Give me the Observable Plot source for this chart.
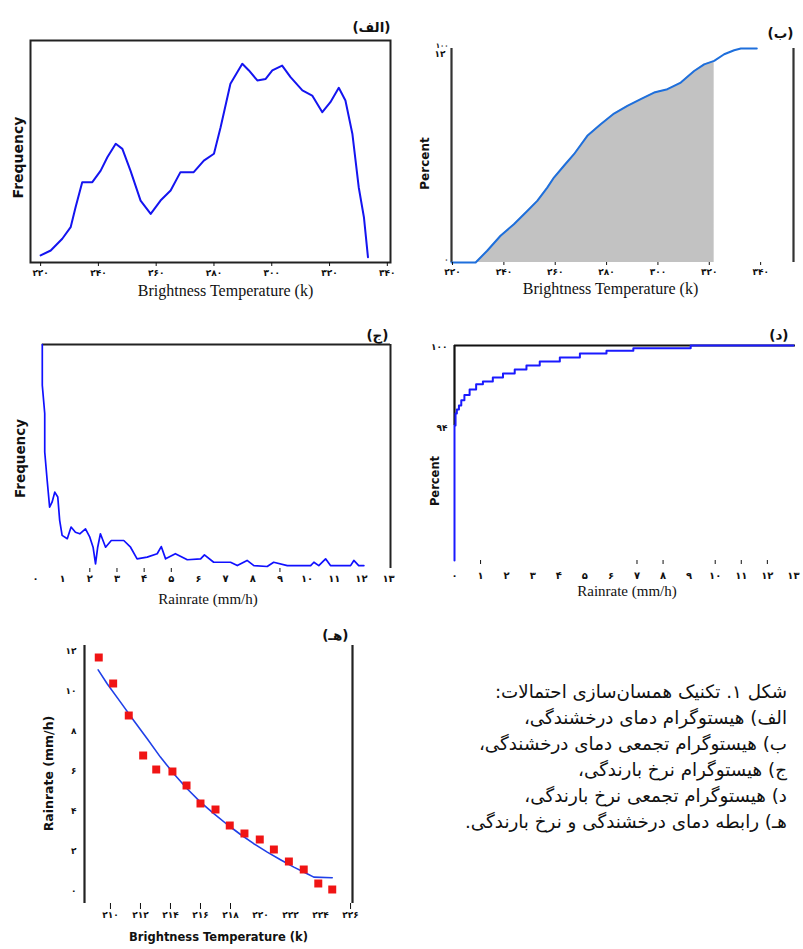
<!DOCTYPE html>
<html><head><meta charset="utf-8">
<script src="https://cdn.jsdelivr.net/npm/d3@7"></script>
<script src="https://cdn.jsdelivr.net/npm/@observablehq/plot@0.6"></script>
<style>
html,body{margin:0;padding:0;background:#fff;}
#page{position:relative;width:803px;height:949px;overflow:hidden;background:#fff;}
.panel{position:absolute;}
#caption{position:absolute;right:16px;top:679px;direction:rtl;text-align:right;font-family:"DejaVu Sans",sans-serif;font-size:18.3px;line-height:26px;color:#111;white-space:nowrap;}
</style></head><body>
<div id="page">
  <div class="panel" id="pa" style="left:0;top:0"></div>
  <div class="panel" id="pb" style="left:400px;top:0"></div>
  <div class="panel" id="pc" style="left:0;top:310px"></div>
  <div class="panel" id="pd" style="left:400px;top:310px"></div>
  <div class="panel" id="pe" style="left:0;top:620px"></div>
  <div id="caption"></div>
</div>
<script>
// ---------- text ----------
const panelLabels = ["(الف)", "(ب)", "(ج)", "(د)", "(هـ)"];
const captionLines = [
  "شکل ۱. تکنیک همسان‌سازی احتمالات:",
  "الف) هیستوگرام دمای درخشندگی،",
  "ب) هیستوگرام تجمعی دمای درخشندگی،",
  "ج) هیستوگرام نرخ بارندگی،",
  "د) هیستوگرام تجمعی نرخ بارندگی،",
  "هـ) رابطه دمای درخشندگی و نرخ بارندگی."
];
const tempTitle = "Brightness Temperature (k)";
const rainTitle = "Rainrate (mm/h)";

// ---------- panel الف : histogram of brightness temperature ----------
const aTemp = [220,223.5,227.5,230.4,232.1,234.4,237.9,240.8,243.1,246.0,248.3,251.1,254.6,258.1,261.5,265.0,268.4,273.0,276.5,280.0,282.3,285.7,289.8,292.1,295.0,297.9,300.2,303.6,306.5,310.6,314.0,317.5,320.3,323.2,325.5,327.9,330.1,331.9,333.3];
const aFreq = [3.2,5.4,10.7,15.9,24.9,36.2,36.2,41.4,47.4,53.5,51.2,41.4,27.9,21.9,27.9,32.4,40.7,40.7,45.9,49.0,60.9,80.5,89.5,86.5,82.0,82.7,86.5,88.7,83.5,77.5,75.2,67.7,72.2,78.7,73.0,58.0,33.9,20.4,2.4];
const aXDomain = [216.5, 341.1];
const aYDomain = [0, 100];
const aXTicks = [220,240,260,280,300,320,340];
const aXTickLabels = ["۲۲۰","۲۴۰","۲۶۰","۲۸۰","۳۰۰","۳۲۰","۳۴۰"];

// ---------- panel ب : cumulative histogram of brightness temperature ----------
const bTemp = [219.6,229.0,233.5,238.7,243.9,249.1,253.0,256.9,259.5,263.4,267.3,272.5,277.7,282.9,288.1,293.3,298.5,303.7,308.9,314.1,318.0,321.9,325.8,329.7,332.3,338.5];
const bPct  = [0,0,5.5,12.5,17.9,24.1,28.8,35.0,39.7,45.2,50.6,59.2,64.6,69.6,73.2,76.3,79.4,81.0,84.1,89.5,92.6,94.2,97.3,99.2,100,100];
const bShadeRange = [229.0, 321.9];
const bXDomain = [219.6, 352.8];
const bYDomain = [0, 100];
const bXTicks = [220,240,260,280,300,320,340];
const bXTickLabels = ["۲۲۰","۲۴۰","۲۶۰","۲۸۰","۳۰۰","۳۲۰","۳۴۰"];
const bYTicks = [0, 100];
const bYTickLabels = ["۰", "۱۰۰"];
const bExtraLabel = {v: 97.5, t: "۱۲"};

// ---------- panel ج : histogram of rain rate ----------
const cRain = [0.25,0.25,0.34,0.34,0.43,0.52,0.61,0.71,0.82,0.89,0.98,1.17,1.31,1.47,1.63,1.84,2.0,2.12,2.21,2.29,2.39,2.58,2.79,3.25,3.5,3.74,4.11,4.48,4.63,4.79,5.15,5.59,6.08,6.22,6.56,7.18,7.43,7.79,8.04,8.53,8.77,9.27,10.13,10.25,10.43,10.68,10.86,11.6,11.72,11.9,12.09];
const cFreq = [100,81.8,69.2,52.0,39.3,27.4,29.6,34.1,31.9,21.5,14.8,13.3,18.5,16.2,15.5,17.7,14.0,9.5,2.1,9.5,15.5,9.5,12.5,12.5,9.5,4.3,5.1,6.6,9.8,4.3,6.6,3.9,4.3,6.1,2.8,2.8,1.3,3.6,1.3,0.9,2.8,1.3,1.3,2.8,1.3,4.3,1.3,1.3,3.6,1.3,1.3];
const cXDomain = [0, 13.07];
const cYDomain = [0, 100];
const cXTicks = [0,1,2,3,4,5,6,7,8,9,10,11,12,13];
const cXTickLabels = ["۰","۱","۲","۳","۴","۵","۶","۷","۸","۹","۱۰","۱۱","۱۲","۱۳"];
const cTickMarks = [2,3,4,5,9];

// ---------- panel د : cumulative histogram of rain rate ----------
const dRain = [0,0,0.04,0.09,0.17,0.26,0.38,0.58,0.83,1.09,1.47,1.86,2.31,2.76,3.27,4.04,4.81,5.83,6.86,9.06,13.0];
const dPct  = [83.9,94.0,94.9,95.2,95.5,95.9,96.3,96.7,97.1,97.3,97.6,97.9,98.2,98.5,98.8,99.1,99.4,99.6,99.8,100,100];
const dXDomain = [0, 13.08];
const dYDomain = [83.9, 100];
const dXTicks = [0,1,2,3,4,5,6,7,8,9,10,11,12,13];
const dXTickLabels = ["۰","۱","۲","۳","۴","۵","۶","۷","۸","۹","۱۰","۱۱","۱۲","۱۳"];
const dTickMarks = [1,7,8,10,11,12];
const dYTicks = [94, 100];
const dYTickLabels = ["۹۴", "۱۰۰"];

// ---------- panel هـ : brightness temperature vs rain rate ----------
const eTemp = [209.22,210.18,211.22,212.18,213.05,214.13,215.07,216.0,217.0,217.95,218.93,219.95,220.89,221.89,222.88,223.85,224.78];
const eRate = [11.7,10.4,8.8,6.8,6.1,6.0,5.3,4.4,4.1,3.3,2.9,2.6,2.1,1.5,1.1,0.4,0.1];
const eFitT = [209.18,209.78,210.67,211.55,212.45,213.33,214.22,215.11,216.0,216.89,217.78,218.67,219.55,220.45,221.33,222.22,223.11,223.55,224.78];
const eFitR = [11.08,10.39,9.47,8.55,7.64,6.72,5.89,5.14,4.47,3.89,3.35,2.85,2.39,1.97,1.59,1.22,0.89,0.72,0.69];
const eXDomain = [208.27, 226.13];
const eYDomain = [-0.6, 12.3];
const eXTicks = [210,212,214,216,218,220,222,224,226];
const eXTickLabels = ["۲۱۰","۲۱۲","۲۱۴","۲۱۶","۲۱۸","۲۲۰","۲۲۲","۲۲۴","۲۲۶"];
const eTickMarks = [210,212,214,216,218,226];
const eYTicks = [0,2,4,6,8,10,12];
const eYTickLabels = ["۰","۲","۴","۶","۸","۱۰","۱۲"];

// ---------- helpers ----------
const fmt = (ticks, labels) => { const m = new Map(ticks.map((t, i) => [t, labels[i]])); return d => m.has(d) ? m.get(d) : ""; };
const zip = (xs, ys) => xs.map((x, i) => ({x, y: ys[i]}));
const baseStyle = {fontFamily: "DejaVu Sans, sans-serif", fontSize: "9px", fontWeight: "bold", color: "#111", background: "transparent", overflow: "visible"};
const serifTitle = {fontFamily: "Liberation Serif, serif", fontWeight: "normal"};
const sansTitle = {fontFamily: "DejaVu Sans, sans-serif", fontWeight: "bold", textAnchor: "middle"};
const labelStyle = {fontFamily: "DejaVu Sans, sans-serif", fontWeight: "bold", fontSize: 13.5};

// ---------- panel الف ----------
document.getElementById("pa").append(Plot.plot({
  width: 400, height: 310, marginLeft: 30, marginRight: 10, marginTop: 40, marginBottom: 48,
  style: baseStyle,
  x: {domain: aXDomain}, y: {domain: aYDomain, axis: null},
  marks: [
    Plot.frame({stroke: "#222", strokeWidth: 2}),
    Plot.line(zip(aTemp, aFreq), {x: "x", y: "y", stroke: "#1414f0", strokeWidth: 2}),
    Plot.axisX({ticks: aXTicks, tickFormat: fmt(aXTicks, aXTickLabels), tickSize: 4, tickPadding: 3, label: null}),
    Plot.text([tempTitle], {text: d => d, frameAnchor: "bottom", dx: 15, dy: 33, fontSize: 16, ...serifTitle}),
    Plot.text(["Frequency"], {text: d => d, frameAnchor: "left", rotate: -90, dx: -12, dy: 6, fontSize: 14, ...sansTitle}),
    Plot.text([panelLabels[0]], {text: d => d, frameAnchor: "top-right", textAnchor: "end", dy: -18, ...labelStyle})
  ]
}));

// ---------- panel ب ----------
document.getElementById("pb").append(Plot.plot({
  width: 403, height: 310, marginLeft: 51, marginRight: 10, marginTop: 48, marginBottom: 48,
  style: baseStyle,
  x: {domain: bXDomain}, y: {domain: bYDomain},
  marks: [
    Plot.areaY(zip(bTemp, bPct).filter(d => d.x >= bShadeRange[0] && d.x <= bShadeRange[1]), {x: "x", y: "y", fill: "#c2c2c2"}),
    Plot.ruleX(bXDomain, {stroke: "#333", strokeWidth: 2.2}),
    Plot.line(zip(bTemp, bPct), {x: "x", y: "y", stroke: "#1e6fdc", strokeWidth: 2}),
    Plot.axisX({ticks: bXTicks, tickFormat: fmt(bXTicks, bXTickLabels), tickSize: 3, tickPadding: 3, label: null}),
    Plot.axisY({ticks: bYTicks, tickFormat: fmt(bYTicks, bYTickLabels), tickSize: 0, tickPadding: 3, dy: -3, fontSize: 7, label: null}),
    Plot.text([bExtraLabel], {y: "v", text: "t", frameAnchor: "left", textAnchor: "end", dx: -6, fontSize: 9}),
    Plot.text([tempTitle], {text: d => d, frameAnchor: "bottom", dx: -12, dy: 31, fontSize: 16, ...serifTitle}),
    Plot.text(["Percent"], {text: d => d, frameAnchor: "left", rotate: -90, dx: -26, dy: 8, fontSize: 12, ...sansTitle}),
    Plot.text([panelLabels[1]], {text: d => d, frameAnchor: "top-right", textAnchor: "end", dy: -20, ...labelStyle})
  ]
}));

// ---------- panel ج ----------
document.getElementById("pc").append(Plot.plot({
  width: 400, height: 310, marginLeft: 35, marginRight: 10, marginTop: 34, marginBottom: 52,
  style: baseStyle,
  x: {domain: cXDomain}, y: {domain: cYDomain, axis: null},
  marks: [
    Plot.ruleY([cYDomain[1]], {x1: cRain[0], x2: cXDomain[1], stroke: "#222", strokeWidth: 2}),
    Plot.ruleX([cXDomain[1]], {stroke: "#222", strokeWidth: 2}),
    Plot.line(zip(cRain, cFreq), {x: "x", y: "y", stroke: "#1010ff", strokeWidth: 1.7}),
    Plot.axisX({ticks: cTickMarks, tickFormat: () => "", tickSize: 4, label: null}),
    Plot.axisX({ticks: cXTicks, tickFormat: fmt(cXTicks, cXTickLabels), tickSize: 0, tickPadding: 6, fontSize: 10, label: null}),
    Plot.text([rainTitle], {text: d => d, frameAnchor: "bottom", dx: -5, dy: 35, fontSize: 15, ...serifTitle}),
    Plot.text(["Frequency"], {text: d => d, frameAnchor: "left", rotate: -90, dx: -15, dy: 2, fontSize: 13.5, ...sansTitle}),
    Plot.text([panelLabels[2]], {text: d => d, frameAnchor: "top-right", textAnchor: "end", dx: -2, dy: -14, ...labelStyle})
  ]
}));

// ---------- panel د ----------
document.getElementById("pd").append(Plot.plot({
  width: 403, height: 310, marginLeft: 54, marginRight: 8, marginTop: 35, marginBottom: 60,
  style: baseStyle,
  x: {domain: dXDomain}, y: {domain: dYDomain},
  marks: [
    Plot.ruleY([dYDomain[1]], {stroke: "#111", strokeWidth: 2}),
    Plot.ruleX([dXDomain[0]], {y1: dYTicks[0], y2: dYTicks[1], stroke: "#111", strokeWidth: 2.2}),
    Plot.line(zip(dRain, dPct), {x: "x", y: "y", stroke: "#1a1aff", strokeWidth: 2, curve: "step-after"}),
    Plot.axisX({ticks: dTickMarks, tickFormat: () => "", tickSize: 4, label: null}),
    Plot.axisX({ticks: dXTicks, tickFormat: fmt(dXTicks, dXTickLabels), tickSize: 0, tickPadding: 11, fontSize: 10, label: null}),
    Plot.axisY({ticks: dYTicks, tickFormat: fmt(dYTicks, dYTickLabels), tickSize: 0, tickPadding: 7, dy: 2, fontSize: 9, label: null}),
    Plot.text([rainTitle], {text: d => d, frameAnchor: "bottom", dx: 2, dy: 35, fontSize: 15, ...serifTitle}),
    Plot.text(["Percent"], {text: d => d, frameAnchor: "left", rotate: -90, dx: -19, dy: 28, fontSize: 11.5, ...sansTitle}),
    Plot.text([panelLabels[3]], {text: d => d, frameAnchor: "top-right", textAnchor: "end", dx: -7, dy: -15, ...labelStyle})
  ]
}));

// ---------- panel هـ ----------
document.getElementById("pe").append(Plot.plot({
  width: 400, height: 329, marginLeft: 84, marginRight: 48, marginTop: 25, marginBottom: 46,
  style: baseStyle,
  x: {domain: eXDomain}, y: {domain: eYDomain},
  marks: [
    Plot.ruleX(eXDomain, {stroke: "#222", strokeWidth: 2.2}),
    Plot.line(zip(eFitT, eFitR), {x: "x", y: "y", stroke: "#2040e8", strokeWidth: 1.6}),
    Plot.dot(zip(eTemp, eRate), {x: "x", y: "y", symbol: "square", r: 4.5, fill: "#f01414", stroke: "none"}),
    Plot.axisX({ticks: eTickMarks, tickFormat: () => "", tickSize: 6, label: null}),
    Plot.axisX({ticks: eXTicks, tickFormat: fmt(eXTicks, eXTickLabels), tickSize: 0, tickPadding: 8, fontSize: 9, label: null}),
    Plot.axisY({ticks: eYTicks, tickFormat: fmt(eYTicks, eYTickLabels), tickSize: 0, tickPadding: 8, fontSize: 9, label: null}),
    Plot.text([tempTitle], {text: d => d, frameAnchor: "bottom", dy: 37, fontSize: 11.5, ...sansTitle}),
    Plot.text([rainTitle], {text: d => d, frameAnchor: "left", rotate: -90, dx: -36, dy: -1, fontSize: 12.5, ...sansTitle}),
    Plot.text([panelLabels[4]], {text: d => d, frameAnchor: "top-right", textAnchor: "end", dx: -4, dy: -15, ...labelStyle})
  ]
}));

// ---------- caption ----------
const cap = document.getElementById("caption");
captionLines.forEach(t => { const div = document.createElement("div"); div.textContent = t; cap.append(div); });
</script>
</body></html>
